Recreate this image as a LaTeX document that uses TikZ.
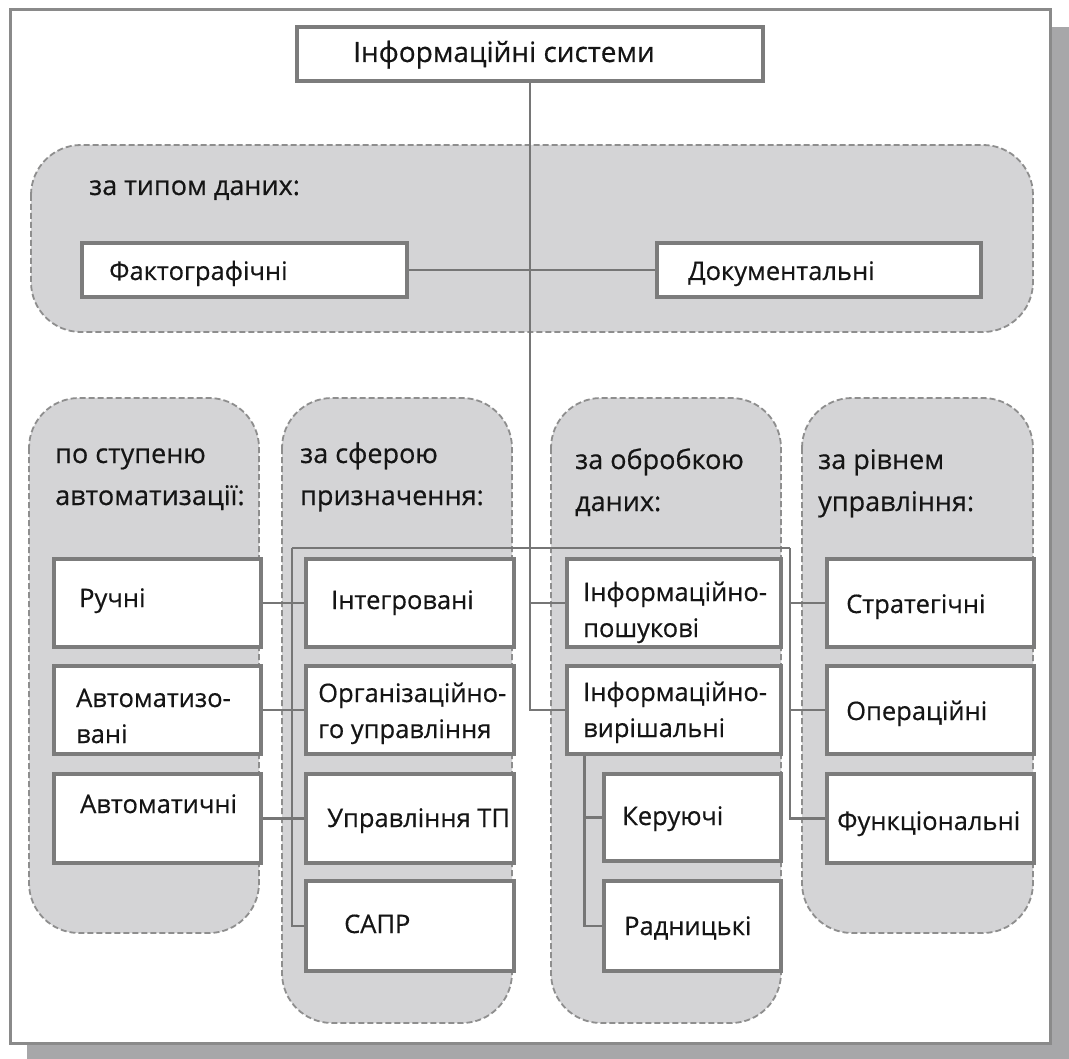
\documentclass[tikz,border=0pt]{standalone}
\usepackage{fontspec}
\setmainfont{Open Sans}[FakeBold=0.5]
\definecolor{framegray}{HTML}{8A8A8A}
\definecolor{shadowgray}{HTML}{A7A7A9}
\definecolor{dashgray}{HTML}{8E8E8E}
\definecolor{groupfill}{HTML}{D4D4D6}
\definecolor{boxgray}{HTML}{7C7C7C}
\definecolor{linegray}{HTML}{767676}
\definecolor{textcol}{HTML}{151515}
\begin{document}
\begin{tikzpicture}[x=1pt,y=-1pt,
  frame/.style={draw=framegray, line width=3pt, fill=white},
  group/.style={draw=dashgray, dash pattern=on 6pt off 3pt, line width=1.8pt,
                fill=groupfill, rounded corners=50pt},
  box/.style={draw=boxgray, line width=2.8pt, fill=white, rectangle, inner sep=0pt},
  link/.style={draw=linegray, line width=2.6pt},
  txt/.style={inner sep=0pt, anchor=base west, align=left,
              font=\fontsize{25.5}{36}\selectfont, text=textcol},
  head/.style={txt, font=\fontsize{27}{42}\selectfont},
]
\useasboundingbox (0,0) rectangle (1069,1059);

% sheet with drop shadow
\fill[shadowgray] (27,27) rectangle (1069,1059);
\draw[frame] (10,10) rectangle (1050,1043);

% classification groups
\draw[group] (31,145) rectangle (1033,332);
\draw[group] (29,398) rectangle (259,933);
\draw[group] (282,398) rectangle (512,1023);
\draw[group] (551,398) rectangle (781,1023);
\draw[group] (802,398) rectangle (1033,933);

% boxes
\node[box, minimum width=464pt, minimum height=52pt] (top) at (530,54) {};
\node[box, minimum width=323pt, minimum height=52pt] (fakt) at (244.5,270) {};
\node[box, minimum width=322pt, minimum height=52pt] (dok) at (819,270) {};

\node[box, minimum width=205pt, minimum height=86pt] (ruchni) at (157.5,603) {};
\node[box, minimum width=205pt, minimum height=86pt] (avtzov) at (157.5,710) {};
\node[box, minimum width=205pt, minimum height=87pt] (avtom) at (157.5,818.5) {};

\node[box, minimum width=206pt, minimum height=86pt] (integ) at (410,603) {};
\node[box, minimum width=206pt, minimum height=86pt] (org) at (410,710) {};
\node[box, minimum width=206pt, minimum height=87pt] (utp) at (410,818.5) {};
\node[box, minimum width=206pt, minimum height=88pt] (sapr) at (410,926) {};

\node[box, minimum width=212pt, minimum height=86pt] (infp) at (674,603) {};
\node[box, minimum width=212pt, minimum height=86pt] (infv) at (674,710) {};
\node[box, minimum width=175pt, minimum height=85pt] (ker) at (692.5,817.5) {};
\node[box, minimum width=175pt, minimum height=88pt] (radn) at (692.5,926) {};

\node[box, minimum width=205pt, minimum height=86pt] (strat) at (930.5,603) {};
\node[box, minimum width=205pt, minimum height=86pt] (oper) at (930.5,710) {};
\node[box, minimum width=205pt, minimum height=87pt] (funk) at (930.5,818.5) {};

% junction points
\coordinate (busL) at (292,548);
\coordinate (busR) at (790,548);
\coordinate (sub) at ([xshift=18pt]infv.south west);

% connectors
\draw[link] (top.south) |- (infv.west);
\draw[link] (infp.west -| top.south) -- (infp.west);
\draw[link] (fakt.east) -- (dok.west);
\draw[link] (busL) -- (busR);
\draw[link] (busL) |- (sapr.west);
\draw[link] (ruchni.east) -- (integ.west);
\draw[link] (avtzov.east) -- (org.west);
\draw[link] (avtom.east) -- (utp.west);
\draw[link] (busR) |- (funk.west);
\draw[link] (strat.west -| busR) -- (strat.west);
\draw[link] (oper.west -| busR) -- (oper.west);
\draw[link] (sub) |- (radn.west);
\draw[link] (ker.west -| sub) -- (ker.west);

% box outlines drawn again over the connector ends
\foreach \b in {top,fakt,dok,ruchni,avtzov,avtom,integ,org,utp,sapr,infp,infv,ker,radn,strat,oper,funk}
  \draw[boxgray, line width=2.8pt] (\b.south west) rectangle (\b.north east);

% texts (base = baseline of the last line)
\node[head, font=\fontsize{28}{42}\selectfont] (top-t) at (353,62) {Інформаційні системи};
\node[head] (g0-t) at (89,195) {за типом даних:};
\node[txt] (fakt-t) at (109,280) {Фактографічні};
\node[txt] (dok-t) at (688,280) {Документальні};

\node[head] (g1-t) at (55,505) {по ступеню\\автоматизації:};
\node[head] (g2-t) at (300,505) {за сферою\\призначення:};
\node[head] (g3-t) at (575,511) {за обробкою\\даних:};
\node[head] (g4-t) at (818,511) {за рівнем\\управління:};

\node[txt] (ruchni-t) at (79,607) {Ручні};
\node[txt] (avtzov-t) at (76,743) {Автоматизо-\\вані};
\node[txt] (avtom-t) at (80,813) {Автоматичні};

\node[txt] (integ-t) at (331,609) {Інтегровані};
\node[txt] (org-t) at (318,738) {Організаційно-\\го управління};
\node[txt] (utp-t) at (327,827) {Управління ТП};
\node[txt] (sapr-t) at (344,933) {САПР};

\node[txt] (infp-t) at (583,637) {Інформаційно-\\пошукові};
\node[txt] (infv-t) at (583,737) {Інформаційно-\\вирішальні};
\node[txt] (ker-t) at (622,825) {Керуючі};
\node[txt] (radn-t) at (624,935) {Радницькі};

\node[txt] (strat-t) at (846,613) {Стратегічні};
\node[txt] (oper-t) at (846,720) {Операційні};
\node[txt] (funk-t) at (837,830) {Функціональні};
\end{tikzpicture}
\end{document}
